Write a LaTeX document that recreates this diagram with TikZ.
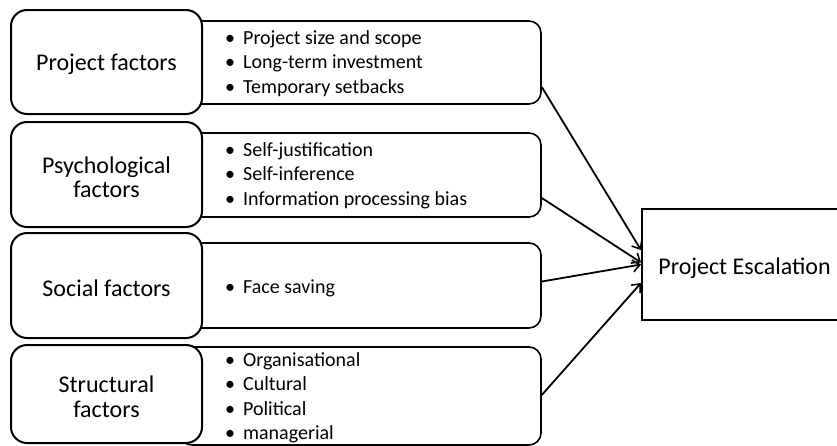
\documentclass[tikz,border=0pt]{standalone}
\usepackage{fontspec}
\setmainfont{Carlito}
\usetikzlibrary{arrows.meta}
\begin{document}
\begin{tikzpicture}[x=1pt,y=-1pt,
  factor/.style={draw, line width=2pt, fill=white, rounded corners=16pt,
    minimum width=191pt, minimum height=104pt, inner sep=0pt},
  caption/.style={inner sep=0pt, align=center, yshift=-2.5pt,
    font=\fontsize{24}{24.5}\selectfont},
  listbox/.style={draw, line width=1.6pt, rounded corners=12pt,
    minimum width=361pt, inner sep=0pt},
  items/.style={anchor=west, inner sep=0pt, align=left,
    font=\fontsize{20}{24.5}\selectfont},
  outcome/.style={draw, line width=2pt, minimum width=205pt, minimum height=111pt,
    inner sep=0pt},
  link/.style={line width=1.8pt, -{Straight Barb[length=7pt,width=12pt,line width=1.6pt]}}]
\clip (0,0) rectangle (837,445);
\newcommand{\bul}{\textbullet\hspace{8pt}}

% item boxes (drawn first, the factor boxes cover their left ends)
\node[listbox, minimum height=83pt] (r1) at (360.5,62.5) {};
\node[listbox, minimum height=84pt] (r2) at (360.5,175) {};
\node[listbox, minimum height=85pt] (r3) at (360.5,285.5) {};
\node[listbox, minimum height=98pt] (r4) at (360.5,396) {};

% factor boxes
\node[factor, label={[caption]center:Project factors}] (f1) at (106.5,62) {};
\node[factor, minimum height=105pt,
  label={[caption]center:Psychological\\factors}] (f2) at (106.5,174.5) {};
\node[factor, minimum height=105pt,
  label={[caption]center:Social factors}] (f3) at (106.5,285.5) {};
\node[factor, minimum height=98pt,
  label={[caption]center:Structural\\factors}] (f4) at (106.5,394) {};

% item lists
\node[items] (l1) at (225,63.5) {\bul Project size and scope\\\bul Long-term investment\\\bul Temporary setbacks};
\node[items] (l2) at (225,175.5) {\bul Self-justification\\\bul Self-inference\\\bul Information processing bias};
\node[items] (l3) at (225,288.5) {\bul Face saving};
\node[items] (l4) at (225,398) {\bul Organisational\\\bul Cultural\\\bul Political\\\bul managerial};

% outcome
\node[outcome, label={[caption, yshift=-1.5pt]center:Project Escalation}] (esc) at (744.5,264.5) {};

% influences
\draw[link] ([yshift=-24.5pt]r1.east) -- ([yshift=14.5pt]esc.west);
\draw[link] ([yshift=-23pt]r2.east) -- ([yshift=2pt]esc.west);
\draw[link] ([yshift=4pt]r3.east) -- ([yshift=0pt]esc.west);
\draw[link] ([yshift=1pt]r4.east) -- ([yshift=-18.5pt]esc.west);
\end{tikzpicture}
\end{document}
